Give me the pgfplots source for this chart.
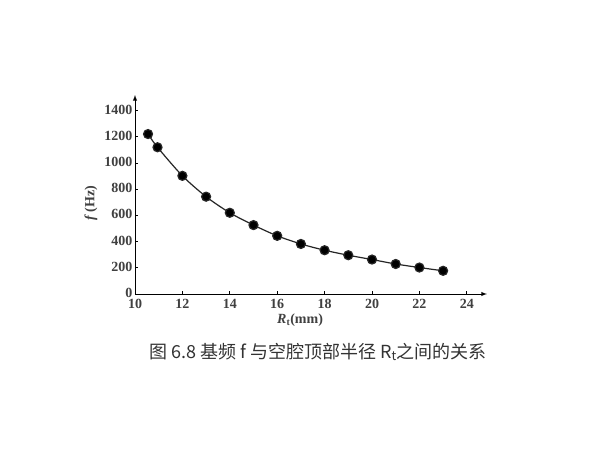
\documentclass[border=0pt]{standalone}
\usepackage{fontspec}
\setmainfont{Liberation Serif}
\newfontfamily\cjk{Noto Sans CJK SC}
\usepackage{pgfplots}
\pgfplotsset{compat=1.18}
\begin{document}
\begin{tikzpicture}
  \useasboundingbox (0,0) rectangle (600pt,450pt);
  \fill[white] (0,0) rectangle (600pt,450pt);
  \begin{axis}[
    at={(135pt,156pt)}, anchor=south west,
    scale only axis,
    x=23.7pt, y=0.131pt,
    xmin=10, xmax=24.85,
    ymin=0, ymax=1519,
    axis lines=left,
    axis line style={line width=0.9pt, -latex},
    xtick={10,12,...,24},
    ytick={0,200,...,1400},
    tick align=inside,
    major tick length=3pt,
    tick style={black, line width=0.7pt},
    /pgf/number format/assume math mode=true,
    /pgf/number format/set thousands separator={},
    tick label style={font=\bfseries\fontsize{14}{16}\selectfont, text=black!75},
    xticklabel style={yshift=-1.5pt},
    yticklabel style={xshift=1pt, yshift=1pt},
    xlabel={\textit{R}\textsubscript{t}(mm)},
    ylabel={\textit{f}\,(Hz)},
    label style={font=\bfseries\fontsize{14}{16}\selectfont, text=black!75},
    xlabel style={at={(axis description cs:0.469,-0.13)}, anchor=center},
    ylabel style={at={(axis description cs:-0.125,0.457)}, anchor=center, rotate=0},
    clip=false,
  ]
    \addplot[black!85, line width=1.2pt, smooth, tension=0.5,
             mark=*, mark size=4.5pt, mark options={fill=black}] coordinates {
      (10.55,1221) (10.95,1120) (12,902) (13,743) (14,620) (15,526)
      (16,444) (17,382) (18,334) (19,296) (20,263) (21,229)
      (22,202) (23,177)
    };
  \end{axis}
  \node[font=\cjk\fontsize{18}{21}\selectfont, text=black!80, anchor=center]
    at (318pt,98pt) {图 6.8 基频 f 与空腔顶部半径 R\textsubscript{t}之间的关系};
\end{tikzpicture}
\end{document}
